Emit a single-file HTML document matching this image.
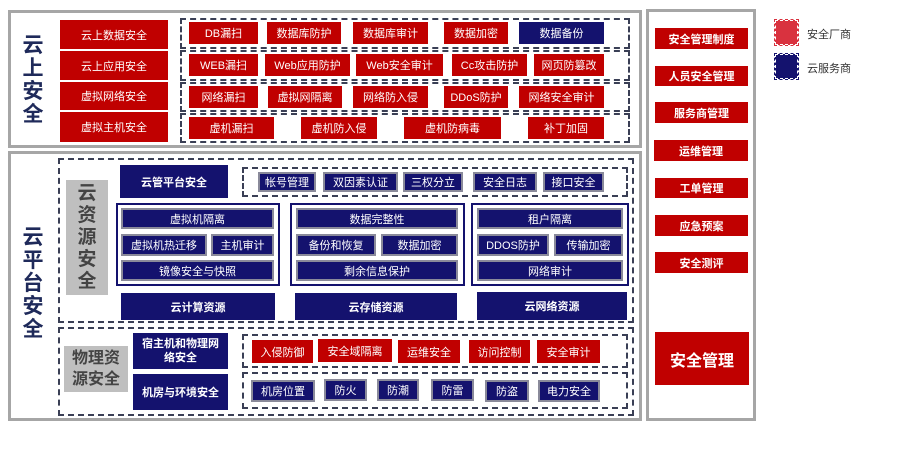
<!DOCTYPE html>
<html><head><meta charset="utf-8"><style>
*{margin:0;padding:0;box-sizing:border-box}
body{width:906px;height:458px;background:#fff;position:relative;overflow:hidden;font-family:"Liberation Sans","Noto Sans CJK SC",sans-serif}
div{position:absolute}
.r,.n,.g{display:flex;align-items:center;justify-content:center;color:#fff;font-size:11px;white-space:nowrap}
.r{background:#c00000}
.n{background:#14126e}
.g{background:#14126e;border:2px solid #8a8a9a}
.b{font-weight:bold}
.d{border:2px dashed #3a3f55}
.p{border:3px solid #a6a6a6}
.v{color:#1f2a5a;font-weight:bold;font-size:21px;line-height:23px;width:26px;text-align:center}
.gl{background:#bfbfbf;color:#444;font-weight:bold;display:flex;align-items:center;justify-content:center;text-align:center}
.gb{border:2px solid #14126e}
.leg{font-size:11px;color:#333}
</style></head><body>
<!-- top panel -->
<div class="p" style="left:8px;top:10px;width:634px;height:138px"></div>
<div class="v" style="left:20px;top:34px">云<br>上<br>安<br>全</div>
<div class="r" style="left:60px;top:20px;width:108px;height:29px">云上数据安全</div>
<div class="r" style="left:60px;top:51px;width:108px;height:29px">云上应用安全</div>
<div class="r" style="left:60px;top:82px;width:108px;height:28px">虚拟网络安全</div>
<div class="r" style="left:60px;top:112px;width:108px;height:30px">虚拟主机安全</div>
<div class="d" style="left:180px;top:18px;width:450px;height:31px"></div>
<div class="d" style="left:180px;top:50px;width:450px;height:31px"></div>
<div class="d" style="left:180px;top:82px;width:450px;height:30px"></div>
<div class="d" style="left:180px;top:113px;width:450px;height:30px"></div>
<div class="r" style="left:189px;top:22px;width:69px;height:22px">DB漏扫</div>
<div class="r" style="left:267px;top:22px;width:74px;height:22px">数据库防护</div>
<div class="r" style="left:353px;top:22px;width:75px;height:22px">数据库审计</div>
<div class="r" style="left:444px;top:22px;width:64px;height:22px">数据加密</div>
<div class="n" style="left:519px;top:22px;width:85px;height:22px">数据备份</div>
<div class="r" style="left:189px;top:54px;width:69px;height:22px">WEB漏扫</div>
<div class="r" style="left:265px;top:54px;width:85px;height:22px">Web应用防护</div>
<div class="r" style="left:356px;top:54px;width:87px;height:22px">Web安全审计</div>
<div class="r" style="left:452px;top:54px;width:75px;height:22px">Cc攻击防护</div>
<div class="r" style="left:534px;top:54px;width:70px;height:22px">网页防篡改</div>
<div class="r" style="left:189px;top:86px;width:69px;height:22px">网络漏扫</div>
<div class="r" style="left:268px;top:86px;width:74px;height:22px">虚拟网隔离</div>
<div class="r" style="left:353px;top:86px;width:75px;height:22px">网络防入侵</div>
<div class="r" style="left:444px;top:86px;width:64px;height:22px">DDoS防护</div>
<div class="r" style="left:519px;top:86px;width:85px;height:22px">网络安全审计</div>
<div class="r" style="left:189px;top:117px;width:85px;height:22px">虚机漏扫</div>
<div class="r" style="left:301px;top:117px;width:76px;height:22px">虚机防入侵</div>
<div class="r" style="left:404px;top:117px;width:97px;height:22px">虚机防病毒</div>
<div class="r" style="left:528px;top:117px;width:76px;height:22px">补丁加固</div>

<!-- bottom panel -->
<div class="p" style="left:8px;top:151px;width:634px;height:270px"></div>
<div class="v" style="left:20px;top:226px">云<br>平<br>台<br>安<br>全</div>
<div class="d" style="left:58px;top:158px;width:576px;height:165px"></div>
<div class="gl" style="left:66px;top:180px;width:42px;height:115px;font-size:19px;line-height:22px">云<br>资<br>源<br>安<br>全</div>
<div class="n b" style="left:120px;top:165px;width:108px;height:33px">云管平台安全</div>
<div class="d" style="left:242px;top:167px;width:386px;height:30px"></div>
<div class="g" style="left:258px;top:172px;width:58px;height:20px">帐号管理</div>
<div class="g" style="left:323px;top:172px;width:75px;height:20px">双因素认证</div>
<div class="g" style="left:403px;top:172px;width:60px;height:20px">三权分立</div>
<div class="g" style="left:473px;top:172px;width:64px;height:20px">安全日志</div>
<div class="g" style="left:543px;top:172px;width:61px;height:20px">接口安全</div>

<div class="gb" style="left:116px;top:203px;width:164px;height:83px"></div>
<div class="g" style="left:121px;top:208px;width:153px;height:21px">虚拟机隔离</div>
<div class="g" style="left:121px;top:234px;width:86px;height:22px">虚拟机热迁移</div>
<div class="g" style="left:211px;top:234px;width:63px;height:22px">主机审计</div>
<div class="g" style="left:121px;top:260px;width:153px;height:21px">镜像安全与快照</div>

<div class="gb" style="left:290px;top:203px;width:175px;height:83px"></div>
<div class="g" style="left:296px;top:208px;width:162px;height:21px">数据完整性</div>
<div class="g" style="left:296px;top:234px;width:80px;height:22px">备份和恢复</div>
<div class="g" style="left:381px;top:234px;width:77px;height:22px">数据加密</div>
<div class="g" style="left:296px;top:260px;width:162px;height:21px">剩余信息保护</div>

<div class="gb" style="left:471px;top:203px;width:158px;height:83px"></div>
<div class="g" style="left:477px;top:208px;width:146px;height:21px">租户隔离</div>
<div class="g" style="left:477px;top:234px;width:72px;height:22px">DDOS防护</div>
<div class="g" style="left:554px;top:234px;width:69px;height:22px">传输加密</div>
<div class="g" style="left:477px;top:260px;width:146px;height:21px">网络审计</div>

<div class="n b" style="left:121px;top:293px;width:154px;height:27px">云计算资源</div>
<div class="n b" style="left:295px;top:293px;width:162px;height:27px">云存储资源</div>
<div class="n b" style="left:477px;top:292px;width:150px;height:28px">云网络资源</div>

<div class="d" style="left:58px;top:327px;width:576px;height:89px"></div>
<div class="gl" style="left:64px;top:346px;width:64px;height:46px;font-size:16px;line-height:21px">物理资<br>源安全</div>
<div class="n b" style="left:133px;top:333px;width:95px;height:36px;white-space:normal;text-align:center;line-height:14px">宿主机和物理网<br>络安全</div>
<div class="n b" style="left:133px;top:374px;width:95px;height:36px">机房与环境安全</div>
<div class="d" style="left:242px;top:334px;width:386px;height:34px"></div>
<div class="r" style="left:252px;top:340px;width:61px;height:23px">入侵防御</div>
<div class="r" style="left:318px;top:339px;width:74px;height:23px">安全域隔离</div>
<div class="r" style="left:398px;top:340px;width:62px;height:23px">运维安全</div>
<div class="r" style="left:469px;top:340px;width:61px;height:23px">访问控制</div>
<div class="r" style="left:537px;top:340px;width:63px;height:23px">安全审计</div>
<div class="d" style="left:242px;top:372px;width:386px;height:37px"></div>
<div class="g" style="left:251px;top:380px;width:64px;height:22px">机房位置</div>
<div class="g" style="left:324px;top:379px;width:43px;height:22px">防火</div>
<div class="g" style="left:377px;top:379px;width:42px;height:22px">防潮</div>
<div class="g" style="left:431px;top:379px;width:43px;height:22px">防雷</div>
<div class="g" style="left:485px;top:380px;width:44px;height:22px">防盗</div>
<div class="g" style="left:538px;top:380px;width:62px;height:22px">电力安全</div>

<!-- right panel -->
<div class="p" style="left:646px;top:9px;width:110px;height:412px"></div>
<div class="r b" style="left:655px;top:28px;width:93px;height:21px">安全管理制度</div>
<div class="r b" style="left:655px;top:66px;width:93px;height:20px">人员安全管理</div>
<div class="r b" style="left:655px;top:102px;width:93px;height:21px">服务商管理</div>
<div class="r b" style="left:654px;top:140px;width:94px;height:21px">运维管理</div>
<div class="r b" style="left:655px;top:178px;width:93px;height:20px">工单管理</div>
<div class="r b" style="left:655px;top:215px;width:93px;height:21px">应急预案</div>
<div class="r b" style="left:655px;top:252px;width:93px;height:21px">安全测评</div>
<div class="r b" style="left:655px;top:332px;width:94px;height:53px;font-size:16px">安全管理</div>

<!-- legend -->
<div style="left:775px;top:20px;width:23px;height:25px;background:#d9323f;border:1px dashed #fff;outline:1px dashed #d9323f"></div>
<div class="leg" style="left:807px;top:26px">安全厂商</div>
<div style="left:775px;top:54px;width:23px;height:25px;background:#14126e;border:1px dashed #fff;outline:1px dashed #14126e"></div>
<div class="leg" style="left:807px;top:60px">云服务商</div>
</body></html>
